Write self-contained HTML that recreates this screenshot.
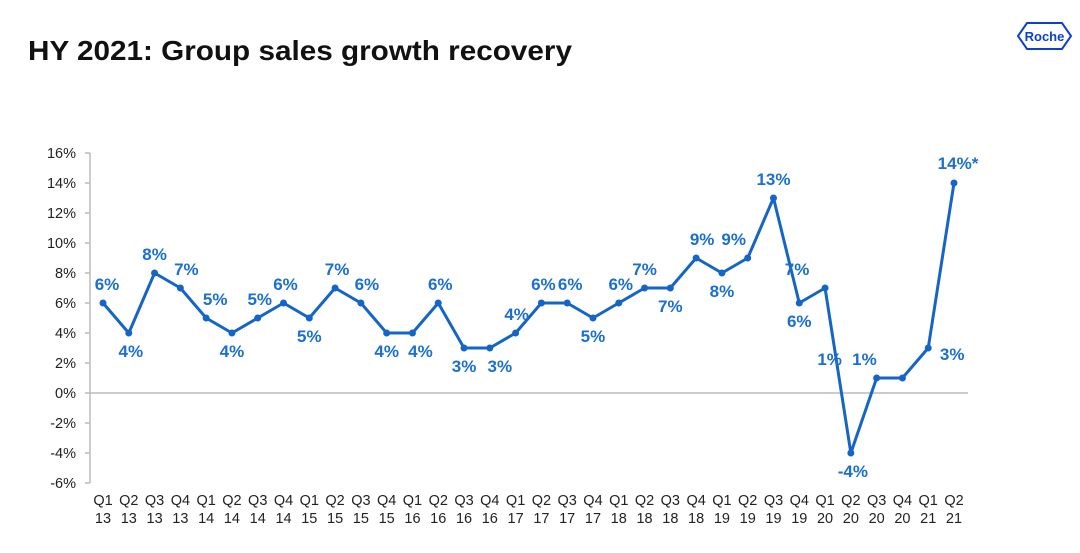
<!DOCTYPE html>
<html><head><meta charset="utf-8"><style>
body{margin:0;width:1080px;height:548px;background:#fff;overflow:hidden;font-family:"Liberation Sans",Arial,sans-serif}
</style></head><body>
<svg width="1080" height="548">
<text x="28" y="60" font-size="28" font-weight="bold" fill="#111" textLength="544" lengthAdjust="spacingAndGlyphs">HY 2021: Group sales growth recovery</text>
<g>
<polygon points="1027,23 1062,23 1071,36 1062,49 1027,49 1018,36" fill="none" stroke="#0b41cd" stroke-width="2"/>
<text x="1044.5" y="41" font-size="13" font-weight="bold" fill="#0b41cd" text-anchor="middle">Roche</text>
</g>
<g id="axes"></g>
<g id="plot"></g>
</svg>
<script>
const categories=["Q1 13","Q2 13","Q3 13","Q4 13","Q1 14","Q2 14","Q3 14","Q4 14","Q1 15","Q2 15","Q3 15","Q4 15","Q1 16","Q2 16","Q3 16","Q4 16","Q1 17","Q2 17","Q3 17","Q4 17","Q1 18","Q2 18","Q3 18","Q4 18","Q1 19","Q2 19","Q3 19","Q4 19","Q1 20","Q2 20","Q3 20","Q4 20","Q1 21","Q2 21"];
const values=[6,4,8,7,5,4,5,6,5,7,6,4,4,6,3,3,4,6,6,5,6,7,7,9,8,9,13,6,7,-4,1,1,3,14];
const valueLabels=["6%","4%","8%","7%","5%","4%","5%","6%","5%","7%","6%","4%","4%","6%","3%","3%","4%","6%","6%","5%","6%","7%","7%","9%","8%","9%","13%","6%","7%","-4%","1%","1%","3%","14%*"];
const yTicks=[16,14,12,10,8,6,4,2,0,-2,-4,-6];
// label placement (layout only): [dx, dy]
const labelOffsets=[[4,-13],[2,24],[0,-13],[6,-13],[9,-13],[0,24],[2,-13],[2,-13],[0,24],[2,-13],[6,-13],[0,24],[8,24],[2,-13],[0,24],[10,24],[1,-13],[2,-13],[3,-13],[0,24],[2,-13],[0,-13],[0,24],[6,-13],[0,24],[-14,-13],[0,-13],[0,24],[-28,-13],[2,24],[-47,-13],[-38,-13],[24,12],[4,-14]];
const NS="http://www.w3.org/2000/svg";
const x0=103,x1=954,yTop=153,yBot=483,vMax=16,vMin=-6;
const xs=i=>x0+(x1-x0)*i/(categories.length-1);
const ys=v=>yTop+(vMax-v)*(yBot-yTop)/(vMax-vMin);
function mk(tag,attrs,parent){const e=document.createElementNS(NS,tag);for(const k in attrs)e.setAttribute(k,attrs[k]);parent.appendChild(e);return e;}
const axes=document.getElementById('axes'),plot=document.getElementById('plot');
let yAxis=mk('line',{x1:90,y1:yTop,x2:90,y2:yBot,stroke:'#bbb','stroke-width':1.5},axes);


let xAxis=mk('line',{x1:90,y1:ys(0),x2:968,y2:ys(0),stroke:'#bbb','stroke-width':1.5},axes);


yTicks.forEach(v=>{
 const y=ys(v);
 const t=mk('line',{x1:85,y1:y,x2:90,y2:y,stroke:'#bbb','stroke-width':1.5},axes);
 
 
 const l=mk('text',{x:76,y:y+5,'font-size':14.5,fill:'#222','text-anchor':'end'},axes);
 l.textContent=v+'%';
 
 
});
categories.forEach((c,i)=>{
 const [q,yr]=c.split(' ');
 const l=mk('text',{x:xs(i),y:505,'font-size':14.5,fill:'#222','text-anchor':'middle'},axes);
 
 
 mk('tspan',{x:xs(i),dy:0},l).textContent=q;
 mk('tspan',{x:xs(i),dy:18},l).textContent=yr;
});
const line=mk('polyline',{points:values.map((v,i)=>xs(i)+','+ys(v)).join(' '),fill:'none',stroke:'#1565c8','stroke-width':3,'stroke-linejoin':'round'},plot);


values.forEach((v,i)=>{
 const p=mk('circle',{cx:xs(i),cy:ys(v),r:3.5,fill:'#1565c8'},plot);
 
 
 const o=labelOffsets[i]||[0,-13];
 const t=mk('text',{x:xs(i)+o[0],y:ys(v)+o[1],'font-size':17,'font-weight':'bold',fill:'#1a6fd1','text-anchor':'middle'},plot);
 t.textContent=valueLabels[i];
 
 
});
</script>
</body></html>
